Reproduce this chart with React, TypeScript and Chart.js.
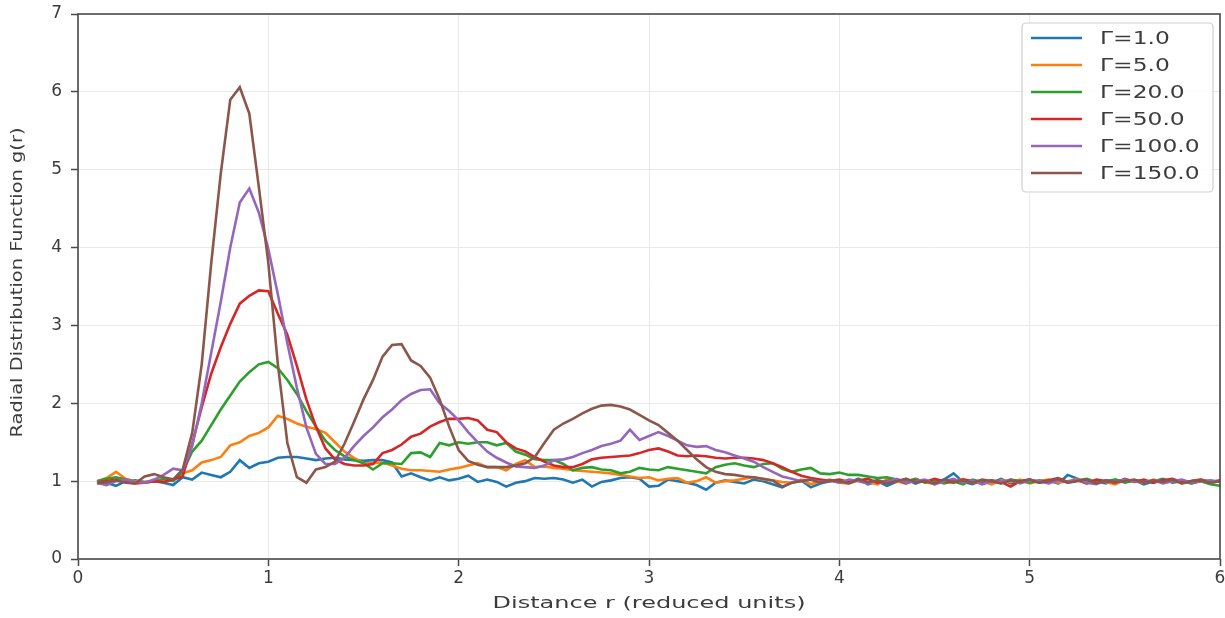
import React, { useEffect, useRef } from 'react';
import { Chart, registerables } from 'chart.js';

Chart.register(...registerables);

// ---------- data ----------
const R_START = 0.1;
const R_STEP = 0.05;
const R_COUNT = 119;
const R: number[] = Array.from({ length: R_COUNT }, (_, i) => +(R_START + R_STEP * i).toFixed(2));

const LABELS = ['Γ=1.0', 'Γ=5.0', 'Γ=20.0', 'Γ=50.0', 'Γ=100.0', 'Γ=150.0'];
const COLORS = ['#1f77b4', '#ff7f0e', '#2ca02c', '#d62728', '#9467bd', '#8c564b'];

const X_TICKS = [0, 1, 2, 3, 4, 5, 6];
const Y_TICKS = [0, 1, 2, 3, 4, 5, 6, 7];
const X_TITLE = 'Distance r (reduced units)';
const Y_TITLE = 'Radial Distribution Function g(r)';

const G1 = [
  1.00, 0.98, 0.94, 1.00, 1.01, 0.99, 1.00, 0.98, 0.95, 1.05,
  1.02, 1.11, 1.08, 1.05, 1.12, 1.27, 1.17, 1.23, 1.25, 1.30,
  1.31, 1.31, 1.29, 1.27, 1.29, 1.30, 1.28, 1.27, 1.26, 1.27,
  1.27, 1.24, 1.06, 1.10, 1.05, 1.01, 1.05, 1.01, 1.03, 1.07,
  0.99, 1.02, 0.99, 0.93, 0.98, 1.00, 1.04, 1.03, 1.04, 1.02,
  0.98, 1.02, 0.93, 0.99, 1.01, 1.04, 1.05, 1.03, 0.93, 0.94,
  1.02, 1.00, 0.98, 0.95, 0.89, 0.98, 1.01, 0.99, 0.97, 1.02,
  1.00, 0.96, 0.92, 0.98, 1.01, 0.92, 0.97, 1.00, 1.01, 0.98,
  1.03, 0.96, 1.00, 0.94, 0.99, 1.03, 0.97, 1.01, 0.98, 1.02,
  1.10, 0.99, 0.96, 1.01, 0.98, 1.03, 0.97, 1.00, 1.02, 0.98,
  1.01, 0.97, 1.08, 1.03, 0.98, 1.00, 0.97, 1.02, 0.99, 1.01,
  0.96, 1.00, 1.03, 0.98, 1.00, 0.97, 1.01, 0.99, 1.00,
];

const G5 = [
  1.00, 1.04, 1.12, 1.03, 1.00, 0.99, 1.00, 1.02, 1.03, 1.10,
  1.14, 1.24, 1.27, 1.31, 1.46, 1.50, 1.58, 1.62, 1.69, 1.84,
  1.80, 1.74, 1.70, 1.67, 1.62, 1.50, 1.38, 1.30, 1.23, 1.23,
  1.24, 1.20, 1.16, 1.14, 1.14, 1.13, 1.12, 1.15, 1.17, 1.20,
  1.23, 1.18, 1.18, 1.14, 1.22, 1.27, 1.18, 1.19, 1.17, 1.16,
  1.14, 1.13, 1.12, 1.11, 1.10, 1.08, 1.06, 1.04, 1.05, 1.01,
  1.03, 1.04, 0.98, 1.00, 1.05, 0.98, 1.00, 1.01, 1.03, 1.05,
  1.02, 1.01, 0.99, 0.98, 1.02, 0.96, 1.00, 1.02, 0.98, 0.97,
  1.01, 0.99, 0.96, 1.02, 1.00, 0.97, 1.03, 0.99, 0.96, 1.01,
  0.99, 1.03, 0.98, 1.00, 0.96, 1.01, 0.99, 1.02, 0.97, 1.00,
  1.02, 0.98, 1.00, 1.03, 0.97, 1.01, 0.99, 0.96, 1.02, 1.00,
  0.98, 1.02, 0.99, 1.01, 0.97, 1.00, 1.02, 0.98, 1.00,
];

const G20 = [
  1.00, 1.03, 1.05, 1.02, 0.99, 0.98, 1.00, 1.03, 1.00, 1.12,
  1.38, 1.52, 1.72, 1.92, 2.10, 2.28, 2.40, 2.50, 2.53, 2.45,
  2.30, 2.12, 1.90, 1.70, 1.52, 1.40, 1.32, 1.27, 1.23, 1.15,
  1.23, 1.23, 1.22, 1.36, 1.37, 1.31, 1.49, 1.46, 1.50, 1.48,
  1.50, 1.50, 1.46, 1.49, 1.38, 1.34, 1.28, 1.27, 1.27, 1.22,
  1.14, 1.17, 1.18, 1.15, 1.14, 1.10, 1.12, 1.17, 1.15, 1.14,
  1.18, 1.16, 1.14, 1.12, 1.10, 1.18, 1.21, 1.23, 1.20, 1.18,
  1.22, 1.23, 1.16, 1.12, 1.15, 1.17, 1.10, 1.09, 1.11, 1.08,
  1.08, 1.06, 1.04, 1.05, 1.02, 1.00, 1.03, 0.98, 1.01, 0.97,
  1.00, 0.96, 1.02, 0.99, 1.01, 0.97, 1.02, 1.00, 0.98, 1.01,
  0.99, 1.02, 0.98, 1.01, 1.03, 0.99, 1.00, 1.02, 0.98, 1.01,
  1.00, 0.98, 1.02, 0.99, 1.01, 0.97, 1.00, 0.96, 0.94,
];

const G50 = [
  0.98, 1.00, 1.02, 0.99, 0.97, 0.98, 1.00, 0.99, 1.02, 1.06,
  1.48, 1.95, 2.38, 2.72, 3.02, 3.28, 3.38, 3.45, 3.44, 3.15,
  2.88, 2.48, 2.05, 1.70, 1.42, 1.28, 1.22, 1.20, 1.20, 1.22,
  1.36, 1.40, 1.47, 1.57, 1.61, 1.70, 1.76, 1.80, 1.80, 1.81,
  1.78, 1.66, 1.63, 1.50, 1.42, 1.38, 1.31, 1.25, 1.20, 1.18,
  1.18, 1.22, 1.28, 1.30, 1.31, 1.32, 1.33, 1.36, 1.40, 1.42,
  1.38, 1.33, 1.32, 1.33, 1.32, 1.30, 1.29, 1.30, 1.30, 1.29,
  1.27, 1.23, 1.18, 1.12, 1.07, 1.04, 1.02, 1.00, 1.02, 0.99,
  1.01, 1.03, 0.98, 1.00, 1.02, 0.97, 1.01, 0.99, 1.03, 1.00,
  0.98, 1.02, 1.00, 0.97, 1.01, 0.99, 0.93, 1.00, 1.02, 0.99,
  1.01, 1.04, 0.99, 1.01, 0.97, 1.02, 1.00, 0.98, 1.03, 0.99,
  1.02, 0.98, 1.01, 1.03, 0.99, 1.00, 1.02, 0.99, 1.01,
];

const G100 = [
  0.98, 0.95, 1.00, 1.02, 0.99, 0.98, 1.02, 1.08, 1.16, 1.14,
  1.45, 2.00, 2.65, 3.30, 4.00, 4.58, 4.76, 4.45, 3.98, 3.40,
  2.77, 2.20, 1.69, 1.35, 1.22, 1.22, 1.30, 1.45, 1.58, 1.69,
  1.82, 1.92, 2.04, 2.12, 2.17, 2.18, 2.00, 1.90, 1.78, 1.63,
  1.50, 1.38, 1.30, 1.24, 1.19, 1.18, 1.17, 1.20, 1.27, 1.28,
  1.31, 1.36, 1.40, 1.45, 1.48, 1.52, 1.66, 1.53, 1.58, 1.63,
  1.58, 1.52, 1.46, 1.44, 1.45, 1.40, 1.37, 1.33, 1.29, 1.25,
  1.18, 1.12, 1.06, 1.03, 1.00, 1.02, 0.99, 1.01, 0.98, 1.02,
  1.00, 0.97, 1.01, 0.99, 1.03, 0.98, 1.00, 1.02, 0.96, 1.00,
  1.03, 0.98, 1.01, 0.96, 1.00, 0.99, 1.02, 0.97, 1.01, 1.00,
  0.97, 1.01, 0.99, 1.02, 0.98, 0.96, 1.01, 0.99, 1.02, 1.00,
  0.99, 1.01, 0.97, 1.00, 1.02, 0.98, 1.00, 1.01, 0.99,
];

const G150 = [
  0.97, 0.99, 1.01, 0.98, 0.97, 1.06, 1.09, 1.05, 1.02, 1.15,
  1.62, 2.50, 3.80, 4.95, 5.90, 6.06, 5.72, 4.78, 3.80, 2.50,
  1.49, 1.05, 0.98, 1.15, 1.18, 1.25, 1.48, 1.76, 2.05, 2.30,
  2.60, 2.75, 2.76, 2.55, 2.48, 2.33, 2.05, 1.70, 1.40, 1.26,
  1.21, 1.18, 1.18, 1.18, 1.20, 1.23, 1.31, 1.49, 1.66, 1.74,
  1.80, 1.87, 1.93, 1.97, 1.98, 1.96, 1.92, 1.85, 1.78, 1.72,
  1.62, 1.52, 1.40, 1.28, 1.18, 1.12, 1.09, 1.08, 1.06, 1.05,
  1.03, 1.01, 0.93, 0.98, 1.00, 1.02, 0.98, 1.01, 1.00, 0.97,
  1.02, 0.99, 1.01, 0.97, 1.00, 1.03, 0.99, 1.00, 0.97, 1.02,
  0.99, 1.01, 0.98, 1.02, 1.00, 0.97, 1.01, 0.99, 1.02, 0.98,
  1.00, 1.03, 0.98, 1.00, 1.02, 0.97, 1.01, 0.99, 1.00, 1.02,
  0.98, 1.01, 0.99, 1.02, 0.97, 1.00, 1.01, 0.98, 1.00,
];

const SERIES = [G1, G5, G20, G50, G100, G150];

// ---------- styling ----------
const FONT = '"DejaVu Sans", "Liberation Sans", sans-serif';
const TEXT = '#3c3c3c';
const FRAME = '#4a4a4a';
const GRID = '#e9e9e9';

function drawStretchedText(
  ctx: CanvasRenderingContext2D,
  text: string,
  cx: number,
  cy: number,
  font: string,
  targetLength: number,
  angle: number,
) {
  ctx.save();
  ctx.font = font;
  const w = ctx.measureText(text).width;
  const s = targetLength / w;
  ctx.translate(cx, cy);
  ctx.rotate(angle);
  ctx.scale(s, 1);
  ctx.textAlign = 'center';
  ctx.textBaseline = 'middle';
  ctx.fillStyle = TEXT;
  ctx.fillText(text, 0, 0);
  ctx.restore();
}

const overlayPlugin = {
  id: 'overlay',
  afterDraw(chart: any) {
    const { ctx, chartArea: a } = chart;
    ctx.save();
    // frame (spines)
    ctx.strokeStyle = FRAME;
    ctx.lineWidth = 1.6;
    ctx.strokeRect(a.left, a.top, a.right - a.left, a.bottom - a.top);

    // legend
    const boxW = 191;
    const boxH = 169;
    const bx = a.right - 7 - boxW;
    const by = a.top + 9;
    ctx.beginPath();
    if ((ctx as any).roundRect) (ctx as any).roundRect(bx, by, boxW, boxH, 4);
    else ctx.rect(bx, by, boxW, boxH);
    ctx.fillStyle = 'rgba(255,255,255,0.85)';
    ctx.fill();
    ctx.strokeStyle = '#cfcfcf';
    ctx.lineWidth = 1.2;
    ctx.stroke();
    LABELS.forEach((lab, i) => {
      const y = by + 15 + i * 27;
      ctx.beginPath();
      ctx.moveTo(bx + 9, y);
      ctx.lineTo(bx + 60, y);
      ctx.strokeStyle = COLORS[i];
      ctx.lineWidth = 2.6;
      ctx.stroke();
      ctx.save();
      ctx.translate(bx + 78, y + 1);
      ctx.scale(1.3, 1);
      ctx.font = `18px ${FONT}`;
      ctx.fillStyle = TEXT;
      ctx.textAlign = 'left';
      ctx.textBaseline = 'middle';
      ctx.fillText(lab, 0, 0);
      ctx.restore();
    });

    // axis titles
    drawStretchedText(ctx, X_TITLE, (a.left + a.right) / 2, 604, `16px ${FONT}`, 313, 0);
    drawStretchedText(ctx, Y_TITLE, 18, (a.top + a.bottom) / 2 - 4, `15px ${FONT}`, 310, -Math.PI / 2);
    ctx.restore();
  },
};

export default function App() {
  const ref = useRef<HTMLCanvasElement>(null);

  useEffect(() => {
    const datasets = SERIES.map((vals, i) => ({
      label: LABELS[i],
      data: R.map((x, j) => ({ x, y: vals[j] })),
      borderColor: COLORS[i],
      backgroundColor: COLORS[i],
      borderWidth: 2.6,
      pointRadius: 0,
      tension: 0,
      order: SERIES.length - i,
    }));

    const chart = new Chart(ref.current as HTMLCanvasElement, {
      type: 'line',
      data: { datasets },
      options: {
        animation: false,
        responsive: true,
        maintainAspectRatio: false,
        events: [],
        layout: { padding: { top: 14, right: 5, left: 0, bottom: 0 } },
        plugins: { legend: { display: false }, tooltip: { enabled: false } },
        scales: {
          x: {
            type: 'linear',
            min: X_TICKS[0],
            max: X_TICKS[X_TICKS.length - 1],
            afterFit: (s: any) => {
              s.height = 59;
              s.paddingLeft = 0;
              s.paddingRight = 0;
            },
            afterBuildTicks: (s: any) => { s.ticks = X_TICKS.map((v) => ({ value: v })); },
            ticks: {
              font: { family: FONT, size: 17 },
              color: TEXT,
              padding: 2,
              maxRotation: 0,
              autoSkip: false,
            },
            grid: { color: GRID, lineWidth: 1, tickLength: 7, tickColor: FRAME, tickWidth: 1.5 },
            border: { display: false },
          },
          y: {
            type: 'linear',
            min: Y_TICKS[0],
            max: Y_TICKS[Y_TICKS.length - 1],
            afterFit: (s: any) => {
              s.width = 78;
              s.paddingTop = 0;
              s.paddingBottom = 0;
            },
            afterBuildTicks: (s: any) => { s.ticks = Y_TICKS.map((v) => ({ value: v })); },
            ticks: {
              font: { family: FONT, size: 17 },
              color: TEXT,
              padding: 9,
              autoSkip: false,
            },
            grid: { color: GRID, lineWidth: 1, tickLength: 7, tickColor: FRAME, tickWidth: 1.5 },
            border: { display: false },
          },
        },
      },
      plugins: [overlayPlugin],
    } as any);

    return () => chart.destroy();
  }, []);

  return (
    <div style={{ position: 'fixed', left: 0, top: 0, width: 1225, height: 618, background: '#ffffff' }}>
      <canvas ref={ref} />
    </div>
  );
}
